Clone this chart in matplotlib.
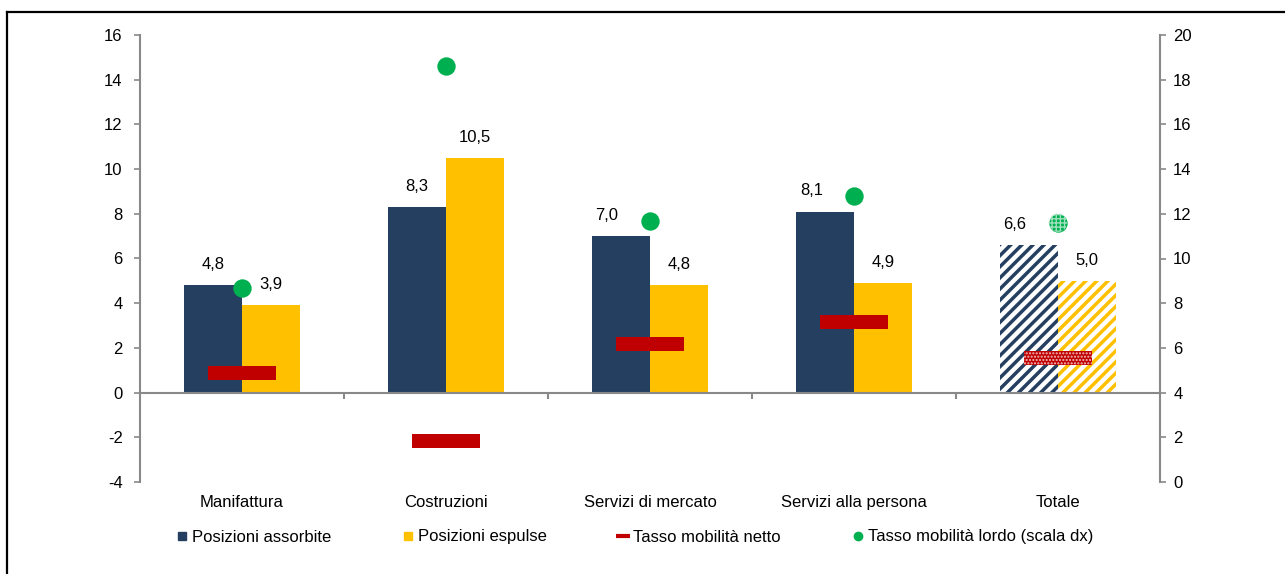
import matplotlib.pyplot as plt
from matplotlib.lines import Line2D
from matplotlib.transforms import blended_transform_factory, offset_copy

plt.rcParams['font.family'] = ['Liberation Sans', 'DejaVu Sans']
plt.rcParams['axes.unicode_minus'] = False
plt.rcParams['hatch.linewidth'] = 2.5

# Dati
categorie = ['Manifattura', 'Costruzioni', 'Servizi di mercato', 'Servizi alla persona', 'Totale']
assorbite = [4.8, 8.3, 7.0, 8.1, 6.6]
espulse = [3.9, 10.5, 4.8, 4.9, 5.0]
netto = [0.86, -2.16, 2.18, 3.16, 1.55]
lordo = [8.7, 18.6, 11.7, 12.8, 11.6]

NAVY = '#243F60'
YELLOW = '#FFC000'
RED = '#C00000'
GREEN = '#00B050'
GREY = '#898989'
FS = 12

fig = plt.figure(figsize=(12.85, 5.74), dpi=100)
ax = fig.add_axes([140 / 1285, 1 - 482 / 574, 1020 / 1285, 447 / 574])
ax2 = ax.twinx()

x = list(range(len(categorie)))
w = 0.285
last = len(categorie) - 1

# barre: l'ultima categoria (Totale) e' tratteggiata
for i in x:
    if i == last:
        ax.bar(i - w / 2, assorbite[i], w, facecolor='white', edgecolor=NAVY, hatch='///', linewidth=0, zorder=2)
        ax.bar(i + w / 2, espulse[i], w, facecolor='white', edgecolor=YELLOW, hatch='///', linewidth=0, zorder=2)
    else:
        ax.bar(i - w / 2, assorbite[i], w, color=NAVY, zorder=2)
        ax.bar(i + w / 2, espulse[i], w, color=YELLOW, zorder=2)

# tasso netto: trattini rossi
dash_h = 0.63
for i in x:
    ax.bar(i, dash_h, 0.333, bottom=netto[i] - dash_h / 2, color=RED, zorder=3)
plt.rcParams['hatch.linewidth'] = 1.0
ax.bar(last, dash_h, 0.333, bottom=netto[last] - dash_h / 2, facecolor='none', edgecolor='#F4C0C0',
       hatch='.....', linewidth=0, zorder=3)

# etichette valori
dx_assorbite = [0, 0, -14, -13, -14]
for i in x:
    tr = offset_copy(ax.transData, fig=fig, x=dx_assorbite[i] * 0.72, y=15, units='points')
    ax.text(i - w / 2, assorbite[i], f'{assorbite[i]:.1f}'.replace('.', ','), transform=tr,
            ha='center', va='center', fontsize=FS)
    tr = offset_copy(ax.transData, fig=fig, x=0, y=15, units='points')
    ax.text(i + w / 2, espulse[i], f'{espulse[i]:.1f}'.replace('.', ','), transform=tr,
            ha='center', va='center', fontsize=FS)

# tasso lordo (scala dx)
ax2.scatter(x, lordo, s=175, color=GREEN, linewidths=0, zorder=4)
ax2.scatter(x[-1:], lordo[-1:], s=175, facecolors='none', edgecolors='#9FE0BF', hatch='++++',
            linewidths=0, zorder=5)

# assi
ax.set_xlim(-0.5, 4.5)
ax.set_ylim(-4, 16)
ax.set_yticks(range(-4, 17, 2))
ax2.set_ylim(0, 20)
ax2.set_yticks(range(0, 21, 2))

for s in ['top', 'right']:
    ax.spines[s].set_visible(False)
for s in ['top', 'bottom', 'left']:
    ax2.spines[s].set_visible(False)
ax.spines['left'].set_color(GREY)
ax.spines['left'].set_linewidth(1.5)
ax.spines['bottom'].set_position(('data', 0))
ax.spines['bottom'].set_color(GREY)
ax.spines['bottom'].set_linewidth(1.5)
ax2.spines['right'].set_color(GREY)
ax2.spines['right'].set_linewidth(1.5)

ax.set_xticks([0.5, 1.5, 2.5, 3.5])
ax.set_xticklabels([])
ax.tick_params(axis='x', direction='out', length=4, width=1.5, color=GREY)
ax.tick_params(axis='y', direction='out', length=4.5, width=1.2, color=GREY, labelsize=FS, pad=8)
ax2.tick_params(axis='y', direction='out', length=4.5, width=1.2, color=GREY, labelsize=FS, pad=5)

trans = blended_transform_factory(ax.transData, ax.transAxes)
for i, c in enumerate(categorie):
    ax.text(i, -25 / 447, c, transform=trans, ha='center', va='baseline', fontsize=FS)

# legenda
handles = [
    Line2D([], [], marker='s', color=NAVY, linestyle='none', markersize=5.5),
    Line2D([], [], marker='s', color=YELLOW, linestyle='none', markersize=5.5),
    Line2D([], [], marker='_', color=RED, linestyle='none', markersize=10, markeredgewidth=3),
    Line2D([], [], marker='o', color=GREEN, linestyle='none', markersize=6),
]
labels = ['Posizioni assorbite', 'Posizioni espulse', 'Tasso mobilità netto', 'Tasso mobilità lordo (scala dx)']
fig.legend(handles, labels, loc='center', bbox_to_anchor=(635 / 1285, 1 - 537 / 574), ncol=4,
           frameon=False, fontsize=FS, handlelength=0.6, handletextpad=0.3, columnspacing=4.3)

# cornice
fig.add_artist(Line2D([7 / 1285, 7 / 1285], [0, 1 - 12 / 574], transform=fig.transFigure, color='black', lw=1.6))
fig.add_artist(Line2D([7 / 1285, 1], [1 - 12 / 574, 1 - 12 / 574], transform=fig.transFigure, color='black', lw=1.6))

fig.savefig('out.png', dpi=100)
